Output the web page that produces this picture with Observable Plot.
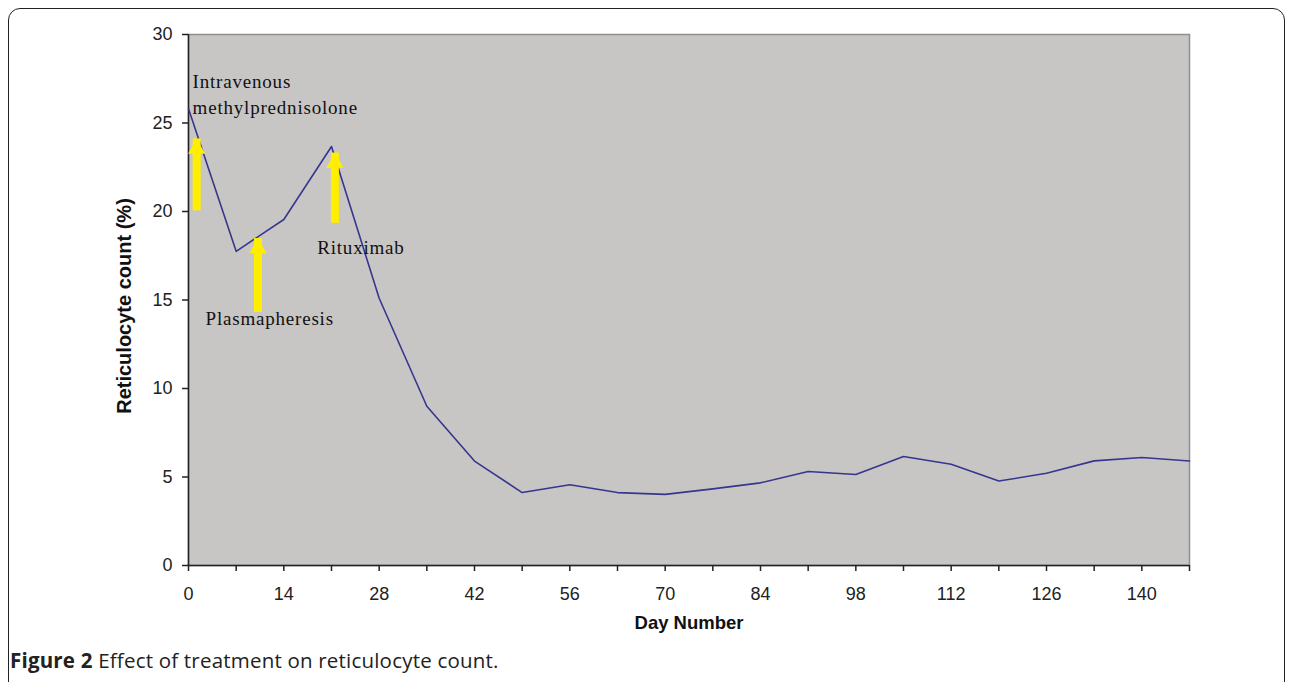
<!DOCTYPE html>
<html>
<head>
<meta charset="utf-8">
<script src="https://cdn.jsdelivr.net/npm/d3@7"></script>
<script src="https://cdn.jsdelivr.net/npm/@observablehq/plot@0.6"></script>
<style>
  html, body { margin: 0; padding: 0; background: #fff; width: 1292px; height: 682px; overflow: hidden; }
  #frame { position: absolute; left: 8px; top: 8px; width: 1277px; height: 720px; border: 1.5px solid #222; border-radius: 12px; box-sizing: border-box; }
  #chart { position: absolute; left: 0; top: 0; }
  #caption { position: absolute; left: 10px; top: 646px; font-family: "Open Sans", "Noto Sans", sans-serif; font-size: 20.5px; letter-spacing: 0.2px; color: #222; white-space: nowrap; }
  #caption b { font-weight: 700; }
  .note text { letter-spacing: 0.8px; }
</style>
</head>
<body>
<div id="frame"></div>
<div id="chart"></div>
<div id="caption"><b>Figure 2</b> Effect of treatment on reticulocyte count.</div>
<script>
// Day numbers (every 7 days)
const days = [0, 7, 14, 21, 28, 35, 42, 49, 56, 63, 70, 77, 84, 91, 98, 105, 112, 119, 126, 133, 140, 147];
// Reticulocyte count (%)
const counts = [25.8, 17.75, 19.55, 23.67, 15.1, 9.0, 5.9, 4.12, 4.56, 4.12, 4.02, 4.33, 4.67, 5.31, 5.14, 6.16, 5.72, 4.77, 5.21, 5.91, 6.1, 5.9];

const xTicks = [0, 7, 14, 21, 28, 35, 42, 49, 56, 63, 70, 77, 84, 91, 98, 105, 112, 119, 126, 133, 140, 147];
const xTickLabels = [0, 14, 28, 42, 56, 70, 84, 98, 112, 126, 140];
const yTicks = [0, 5, 10, 15, 20, 25, 30];

// Treatment arrows: day, arrow base value, arrow tip value
const arrowDays = [1.2, 10.2, 21.5];
const arrowBase = [20.6, 14.86, 19.9];
const arrowTip = [24.1, 18.47, 23.3];

// Annotation labels: text, day (left edge), value (middle)
const noteText = ["Intravenous", "methylprednisolone", "Rituximab", "Plasmapheresis"];
const noteDay = [0.6, 0.6, 18.9, 2.5];
const noteValue = [27.3, 25.85, 17.95, 13.95];

const series = days.map((d, i) => ({day: d, value: counts[i]}));
const arrows = arrowDays.map((d, i) => ({day: d, base: arrowBase[i], tip: arrowTip[i]}));
const notes = noteText.map((t, i) => ({text: t, day: noteDay[i], value: noteValue[i]}));

const chart = Plot.plot({
  width: 1292,
  height: 645,
  marginLeft: 188,
  marginRight: 103,
  marginTop: 34,
  marginBottom: 80,
  x: {domain: [0, 147]},
  y: {domain: [0, 30]},
  style: {fontFamily: "'Liberation Sans', Arial, sans-serif", fontSize: "18px", background: "transparent", color: "#222"},
  marks: [
    Plot.frame({fill: "#c8c6c4", stroke: "#8e8e8e", strokeWidth: 1.5}),
    Plot.axisY({ticks: yTicks, tickSize: 6, tickPadding: 10, label: null, fontSize: 18, strokeWidth: 1.5, tickFormat: d => String(d)}),
    Plot.axisX({ticks: xTicks, tickSize: 6, tickPadding: 16, label: null, fontSize: 18, strokeWidth: 1.5,
      tickFormat: d => xTickLabels.includes(d) ? String(d) : ""}),
    Plot.ruleX([0], {stroke: "#222", strokeWidth: 1.5}),
    Plot.ruleY([0], {stroke: "#222", strokeWidth: 1.5}),
    Plot.line(series, {x: "day", y: "value", stroke: "#36368f", strokeWidth: 1.6}),
    Plot.ruleX(arrows, {x: "day", y1: "base", y2: "tip", stroke: "#ffee00", strokeWidth: 8, insetTop: 10}),
    Plot.dot(arrows, {x: "day", y: "tip", symbol: "triangle", r: 6.4, fill: "#ffee00", stroke: null, dy: 9.8}),
    Plot.text(notes, {x: "day", y: "value", text: "text", textAnchor: "start", fontFamily: "'Liberation Serif', 'Times New Roman', serif",
      fontSize: 19, fill: "#111", className: "note"}),
    Plot.text(["Reticulocyte count (%)"], {frameAnchor: "left", textAnchor: "middle", rotate: -90, dx: -64, dy: 6, fontSize: 20, fontWeight: "bold", fill: "#111"}),
    Plot.text(["Day Number"], {frameAnchor: "bottom", dy: 63, fontSize: 18.5, fontWeight: "bold", fill: "#111"})
  ]
});
document.getElementById("chart").appendChild(chart);
</script>
</body>
</html>
